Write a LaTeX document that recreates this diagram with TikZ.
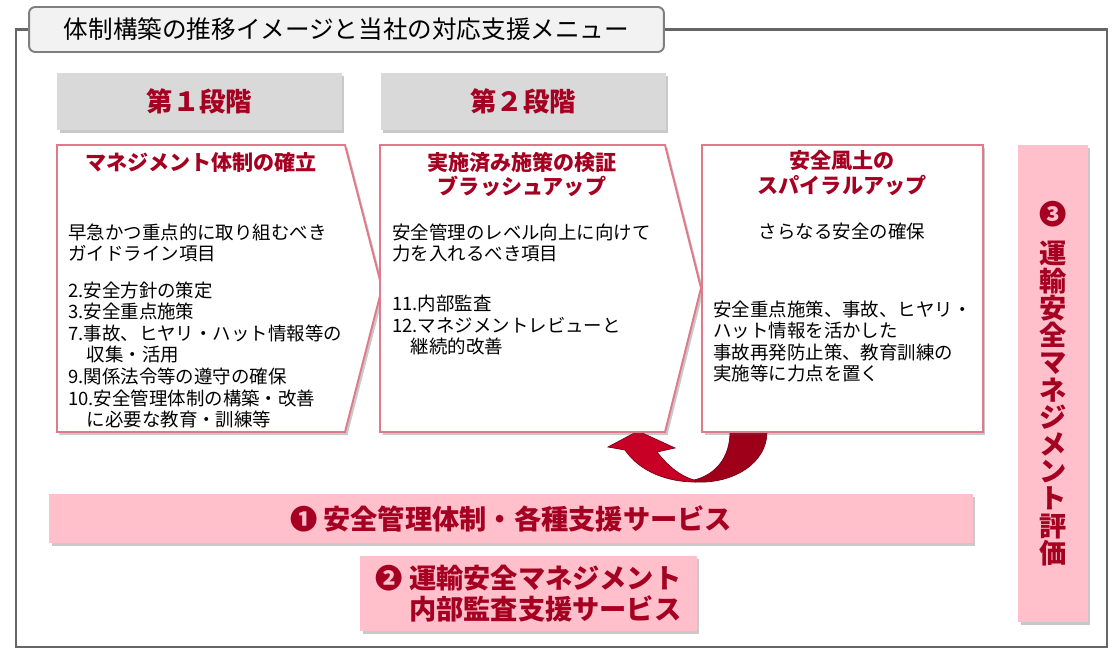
\documentclass[tikz,border=0pt]{standalone}
\usepackage{fontspec}
\setmainfont{Noto Sans CJK JP}
\usetikzlibrary{positioning}
\usetikzlibrary{shadows}

\definecolor{menuRed}{RGB}{165,0,33}
\definecolor{frameGray}{RGB}{102,102,102}
\definecolor{titleGray}{RGB}{127,127,127}
\definecolor{titleFill}{RGB}{242,242,242}
\definecolor{headGray}{RGB}{217,217,217}
\definecolor{phasePink}{RGB}{224,122,138}
\definecolor{barPink}{RGB}{255,192,203}
\definecolor{arrowBright}{RGB}{200,0,38}
\definecolor{arrowDark}{RGB}{158,0,26}

\begin{document}
\begin{tikzpicture}
      [x=0.02cm,y=-0.02cm,
       frameLine/.style={draw=frameGray,line width=1.7pt},
       titleBox/.style={rectangle,rounded corners=3.5pt,draw=titleGray,line width=1.1pt,fill=titleFill,minimum width=12.7cm,minimum height=0.9cm,font=\fontsize{14}{16}\selectfont},
       softShadow/.style={drop shadow={shadow xshift=0.05cm,shadow yshift=-0.06cm,opacity=0.3,fill=black!70}},
       headBox/.style={rectangle,fill=headGray,minimum width=5.7cm,minimum height=1.14cm,softShadow,text=menuRed,font=\fontsize{15}{18}\selectfont\bfseries},
       phaseEdge/.style={draw=phasePink,line width=1.1pt,fill=white,softShadow},
       phaseTitle/.style={inner sep=0,align=center,text=menuRed,font=\fontsize{12}{14.2}\selectfont\bfseries},
       bodyText/.style={inner sep=0,align=left,anchor=west,font=\fontsize{10.5}{12.3}\selectfont},
       menuBar/.style={rectangle,fill=barPink,softShadow,text=menuRed,font=\fontsize{15.5}{17.5}\selectfont\bfseries},
       turnArrow/.style={draw=arrowDark!80!black,line width=0.4pt}]
      \useasboundingbox (0,0) rectangle (1117,659);
      % frame and title
      \node[titleBox] (title) at (346.5,29.5) {体制構築の推移イメージと当社の対応支援メニュー};
      \draw[frameLine] (title.west) -| (16,647) -| (1107,29.5) -- (title.east);
      % stage headers
      \node[headBox] (stage1) at (199.5,101.5) {第１段階};
      \node[headBox,right=0.76cm of stage1] (stage2) {第２段階};
      % curved arrow (behind the phases)
      \fill[arrowDark,turnArrow]
        (730,420) -- (730,432) .. controls (730,458) and (715,475) .. (694,480)
        -- (695,482) .. controls (735,484) and (767,462) .. (767,432) -- (767,420) -- cycle;
      \fill[arrowBright,turnArrow]
        (695,482) .. controls (668,482) and (640,472) .. (625,450) -- (608,447) -- (638,431)
        -- (675,448) -- (657,452) .. controls (668,466) and (680,476) .. (694,480) -- cycle;
      % phases
      \draw[phaseEdge] (57,145) -- (345,145) -- (382,288) -- (345,432) -- (57,432) -- cycle;
      \draw[phaseEdge] (380,145) -- (665,145) -- (701,288) -- (665,432) -- (380,432) -- cycle;
      \node[phaseEdge,rectangle,inner sep=0,minimum width=5.62cm,minimum height=5.74cm] (phase3) at (842.5,288.5) {};
      \node[phaseTitle] (head1) at (201,162) {マネジメント体制の確立};
      \node[phaseTitle] (head2) at (522,174.5) {実施済み施策の検証\\ブラッシュアップ};
      \node[phaseTitle] (head3) at (842,173.5) {安全風土の\\スパイラルアップ};
      \node[bodyText] (body1) at (68,326) {早急かつ重点的に取り組むべき\\
        ガイドライン項目\\[8.3pt]
        2.安全方針の策定\\
        3.安全重点施策\\
        7.事故、ヒヤリ・ハット情報等の\\
        \hspace*{1em}収集・活用\\
        9.関係法令等の遵守の確保\\
        10.安全管理体制の構築・改善\\
        \hspace*{1em}に必要な教育・訓練等};
      \node[bodyText] (body2) at (392,289.5) {安全管理のレベル向上に向けて\\
        力を入れるべき項目\\[16pt]
        11.内部監査\\
        12.マネジメントレビューと\\
        \hspace*{1em}継続的改善};
      \node[bodyText,anchor=center] (goal3) at (842,231) {さらなる安全の確保};
      \node[bodyText] (body3) at (713,341.5) {安全重点施策、事故、ヒヤリ・\\
        ハット情報を活かした\\
        事故再発防止策、教育訓練の\\
        実施等に力点を置く};
      % support menus
      \node[menuBar,minimum width=18.48cm,minimum height=0.98cm] (menu1) at (511,518.5) {❶ 安全管理体制・各種支援サービス};
      \node[menuBar,align=left,minimum width=6.74cm,minimum height=1.5cm] (menu2) at (528.5,593.5) {❷ 運輸安全マネジメント\\\phantom{❷ }内部監査支援サービス};
      \node[menuBar,align=center,minimum width=1.4cm,minimum height=9.54cm,font=\fontsize{15.5}{15.5}\selectfont\bfseries] (menu3) at (1053,383.5)
        {❸\\[7pt]運\\輸\\安\\全\\マ\\ネ\\ジ\\メ\\ン\\ト\\評\\価};
    \end{tikzpicture}
\end{document}
